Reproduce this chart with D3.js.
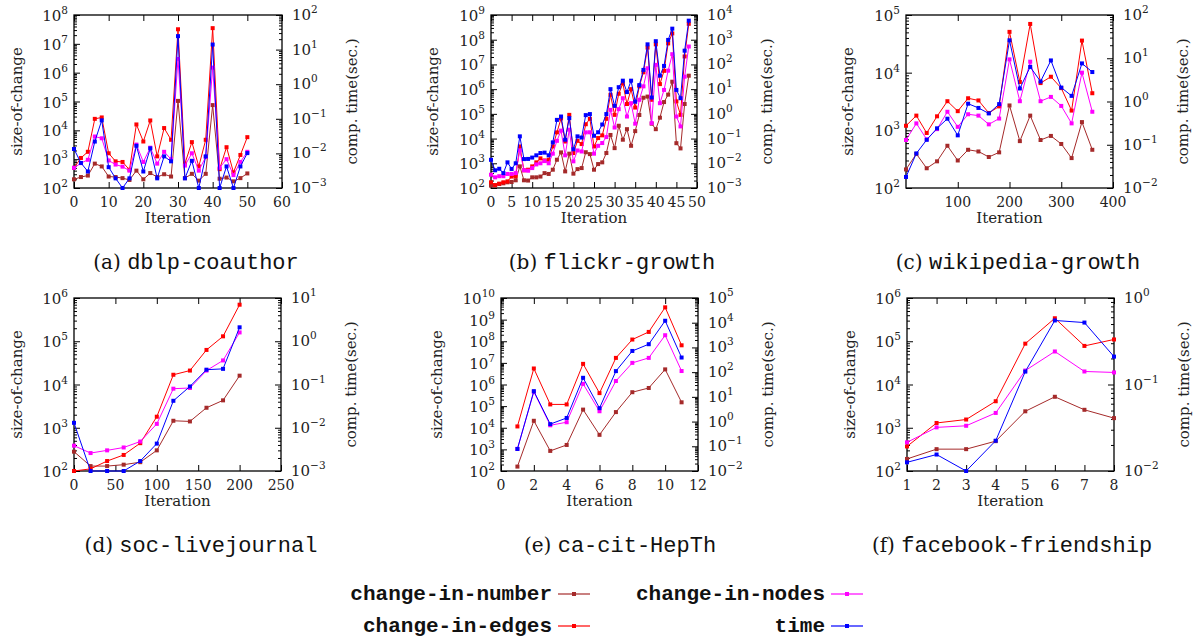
<!DOCTYPE html>
<html><head><meta charset="utf-8">
<script src="https://cdn.jsdelivr.net/npm/d3@7"></script>
<style>body{margin:0;background:#fff}svg{display:block}</style>
</head><body><svg id="c" width="1193" height="641"></svg>
<script>
// ---------- DATA ----------
// (a) dblp-coauthor
const dblpIter   = [0,2,4,6,8,10,12,14,16,18,20,22,24,26,28,30,32,34,36,38,40,42,44,46,48,50];
const dblpNumber = [200,240,270,700,560,250,240,220,190,400,200,330,240,300,250,105000,220,310,180,310,75000,210,230,170,220,320];
const dblpEdges  = [500,1100,1800,25000,28000,1600,840,800,430,16000,4100,22000,1250,12000,4700,32000000,700,3900,560,4700,35000000,450,2600,350,1400,5800];
const dblpNodes  = [500,730,950,6100,5300,900,650,550,400,3200,800,2500,700,1800,1000,3000000,600,1600,400,1200,1500000,500,1000,280,800,1800];
const dblpTime   = [0.0134,0.0053,0.003,0.022,0.09,0.004,0.0019,0.001,0.0019,0.0166,0.003,0.014,0.0019,0.0082,0.0059,24.5,0.0019,0.0061,0.001,0.0082,14,0.001,0.0042,0.001,0.0042,0.0102];

// (b) flickr-growth
const flickrIter   = [0,1,2,3,4,5,6,7,8,9,10,11,12,13,14,15,16,17,18,19,20,21,22,23,24,25,26,27,28,29,30,31,32,33,34,35,36,37,38,39,40,41,42,43,44,45,46,47,48];
const flickrNumber = [125,130,145,155,170,175,205,750,205,200,270,270,290,400,370,550,1390,2760,470,2450,380,580,640,2800,2350,550,930,1090,2600,14000,4100,33000,9000,24000,5100,20000,90000,450000,500000,40000,24000,70000,300000,600000,2000000,6500,4000,250000,3500000];
const flickrEdges  = [170,130,150,170,185,290,300,4800,520,550,750,1090,1580,1300,1390,4800,17800,65000,7600,91000,2600,8100,6000,38000,63000,4800,10500,13500,63000,590000,91000,650000,1700000,250000,1000000,180000,1300000,4800000,48000000,370000,65000000,1600000,5500000,71000000,180000000,320000,91000,21000000,440000000];
const flickrNodes  = [345,270,300,300,370,370,400,3300,520,500,640,900,1000,1230,1000,2450,8100,21000,2100,23000,1200,3300,3000,17800,18000,2450,5100,6600,11500,145000,28000,155000,430000,78000,270000,40000,370000,1300000,7000000,42000,9600000,270000,930000,5600000,26000000,78000,31000,3200000,53000000];
const flickrTime   = [0.0138,0.0052,0.006,0.004,0.0109,0.0059,0.01,0.123,0.0148,0.015,0.017,0.021,0.026,0.027,0.021,0.07,0.57,0.78,0.09,0.67,0.037,0.123,0.11,0.89,0.98,0.13,0.18,0.37,0.98,10,2.1,12,22,7.6,22,3.1,14.6,60,650,4.6,870,35,87,980,2800,9.3,4.3,360,5900];

// (c) wikipedia-growth
const wikiIter   = [0,20,40,60,80,100,120,140,160,180,200,220,240,260,280,300,320,340,360];
const wikiNumber = [210,390,220,290,540,300,460,430,345,415,2700,650,1800,680,800,580,330,1390,460];
const wikiEdges  = [1200,1800,900,1750,3200,2150,3600,3300,2000,2600,51000,6900,70000,6600,8500,5400,2200,36000,4400];
const wikiNodes  = [680,1320,700,1050,2100,1150,1900,1800,1270,1600,17000,3200,15500,3200,3800,2650,1320,10000,2100];
const wikiTime   = [0.018,0.063,0.13,0.24,0.4,0.165,0.89,0.71,0.53,0.87,26,2.0,6.3,2.9,8.9,2.1,1.35,7.6,4.8];

// (d) soc-livejournal
const ljIter   = [0,20,40,60,80,100,120,140,160,180,200];
const ljNumber = [280,130,130,140,160,300,1450,1400,2900,4300,16000];
const ljEdges  = [100,112,170,235,440,1800,16800,21000,63000,130000,700000];
const ljNodes  = [385,260,300,350,480,1230,8000,8300,21000,36000,160000];
const ljTime   = [0.013,0.001,0.001,0.001,0.0017,0.0043,0.042,0.09,0.22,0.23,2.1];

// (e) ca-cit-HepTh
const hepIter   = [1,2,3,4,5,6,7,8,9,10,11];
const hepNumber = [160,21000,850,1600,69000,4700,53000,440000,690000,5000000,150000];
const hepEdges  = [11500,5500000,120000,120000,9000000,400000,17000000,120000000,270000000,3700000000,65000000];
const hepNodes  = [1050,460000,13000,18000,1070000,58000,1450000,10000000,17000000,190000000,4200000];
const hepTime   = [0.078,17,0.79,1.4,59,3.5,110,720,1350,12000,390];

// (f) facebook-friendship
const fbIter   = [1,2,3,4,5,6,7,8];
const fbNumber = [190,320,320,490,2400,5200,2600,1670];
const fbEdges  = [370,1290,1550,4100,88000,340000,78000,110000];
const fbNodes  = [460,1020,1110,2200,21000,58000,20000,19000];
const fbTime   = [0.0126,0.0155,0.01,0.0224,0.141,0.55,0.52,0.21];

// tick labels
const ticksA = [0,10,20,30,40,50,60];
const ticksB = [0,5,10,15,20,25,30,35,40,45,50];
const ticksC = [100,200,300,400];
const ticksD = [0,50,100,150,200,250];
const ticksE = [0,2,4,6,8,10,12];
const ticksF = [1,2,3,4,5,6,7,8];

const captions = [["(a) ","dblp-coauthor"],["(b) ","flickr-growth"],["(c) ","wikipedia-growth"],
                  ["(d) ","soc-livejournal"],["(e) ","ca-cit-HepTh"],["(f) ","facebook-friendship"]];
const legendNames = ["change-in-number","change-in-edges","change-in-nodes","time"];

// ---------- STYLE / LAYOUT ----------
const COL = {number:"#a52a2a", edges:"#ff0000", nodes:"#ff00ff", time:"#0000ff"};
const SERIF = "'DejaVu Serif', serif";
const MONO = "'Liberation Mono','DejaVu Sans Mono',monospace";
const svg = d3.select("#c");

const panels = [
 {iter:dblpIter, s:{number:dblpNumber,edges:dblpEdges,nodes:dblpNodes,time:dblpTime}, xd:[0,60], xt:ticksA,
  yl:[1e2,1e8], yr:[1e-3,1e2], left:74, right:282, top:15, bottom:188, ylab:-57, cap:[196,262]},
 {iter:flickrIter, s:{number:flickrNumber,edges:flickrEdges,nodes:flickrNodes,time:flickrTime}, xd:[0,50], xt:ticksB,
  yl:[1e2,1e9], yr:[1e-3,1e4], left:491, right:697, top:15, bottom:188, ylab:-58, cap:[612,262]},
 {iter:wikiIter, s:{number:wikiNumber,edges:wikiEdges,nodes:wikiNodes,time:wikiTime}, xd:[0,400], xt:ticksC,
  yl:[1e2,1e5], yr:[1e-2,1e2], left:906, right:1113, top:15, bottom:188, ylab:-58, cap:[1018,262]},
 {iter:ljIter, s:{number:ljNumber,edges:ljEdges,nodes:ljNodes,time:ljTime}, xd:[0,250], xt:ticksD,
  yl:[1e2,1e6], yr:[1e-3,1e1], left:74, right:281, top:298, bottom:471, ylab:-57, cap:[201,545]},
 {iter:hepIter, s:{number:hepNumber,edges:hepEdges,nodes:hepNodes,time:hepTime}, xd:[0,12], xt:ticksE,
  yl:[1e2,1e10], yr:[1e-2,1e5], left:501, right:698, top:298, bottom:471, ylab:-64, cap:[620,545]},
 {iter:fbIter, s:{number:fbNumber,edges:fbEdges,nodes:fbNodes,time:fbTime}, xd:[1,8], xt:ticksF,
  yl:[1e2,1e6], yr:[1e-2,1e0], left:907, right:1114, top:298, bottom:471, ylab:-57, cap:[1012,545]}
];

function decades(dom){
  const a=Math.round(Math.log10(dom[0])), b=Math.round(Math.log10(dom[1]));
  const maj=[], min=[];
  for(let e=a;e<=b;e++){ maj.push({v:Math.pow(10,e),e:e}); if(e<b) for(let k=2;k<=9;k++) min.push(k*Math.pow(10,e)); }
  return {maj,min};
}
function powText(t, e){
  t.append("tspan").text("10");
  t.append("tspan").attr("dy",-7).attr("font-size",10.5).text(e<0?"\u2212"+(-e):String(e));
}
function clean(g){ g.select(".domain").remove(); g.selectAll("line").attr("stroke","#000"); }

panels.forEach((p,i)=>{
  const g = svg.append("g");
  const x = d3.scaleLinear().domain(p.xd).range([p.left,p.right]);
  const yL = d3.scaleLog().domain(p.yl).range([p.bottom,p.top]);
  const yR = d3.scaleLog().domain(p.yr).range([p.bottom,p.top]);
  const dl = decades(p.yl), dr = decades(p.yr);

  // axes ticks (inward)
  g.append("g").attr("transform",`translate(0,${p.bottom})`).call(d3.axisBottom(x).tickValues(p.xt).tickSize(-6).tickFormat("")).call(clean);
  g.append("g").attr("transform",`translate(0,${p.top})`).call(d3.axisTop(x).tickValues(p.xt).tickSize(-6).tickFormat("")).call(clean);
  g.append("g").attr("transform",`translate(${p.left},0)`).call(d3.axisLeft(yL).tickValues(dl.maj.map(d=>d.v)).tickSize(-6).tickFormat("")).call(clean);
  g.append("g").attr("transform",`translate(${p.left},0)`).call(d3.axisLeft(yL).tickValues(dl.min).tickSize(-3).tickFormat("")).call(clean);
  g.append("g").attr("transform",`translate(${p.right},0)`).call(d3.axisRight(yR).tickValues(dr.maj.map(d=>d.v)).tickSize(-6).tickFormat("")).call(clean);
  g.append("g").attr("transform",`translate(${p.right},0)`).call(d3.axisRight(yR).tickValues(dr.min).tickSize(-3).tickFormat("")).call(clean);

  // frame
  g.append("rect").attr("x",p.left).attr("y",p.top).attr("width",p.right-p.left).attr("height",p.bottom-p.top)
   .attr("fill","none").attr("stroke","#000").attr("stroke-width",1.3);

  // tick labels
  p.xt.forEach(v=>{
    g.append("text").attr("x",x(v)).attr("y",p.bottom+19).attr("text-anchor","middle")
     .attr("font-family",SERIF).attr("font-size",14).attr("fill","#222").text(v);
  });
  dl.maj.forEach(d=>{
    const t=g.append("text").attr("x",p.left-6).attr("y",yL(d.v)+6).attr("text-anchor","end")
     .attr("font-family",SERIF).attr("font-size",15).attr("fill","#222");
    powText(t,d.e);
  });
  dr.maj.forEach(d=>{
    const t=g.append("text").attr("x",p.right+10).attr("y",yR(d.v)+5).attr("text-anchor","start")
     .attr("font-family",SERIF).attr("font-size",15).attr("fill","#222");
    powText(t,d.e);
  });
  // axis titles
  const my=(p.top+p.bottom)/2;
  g.append("text").attr("transform",`translate(${p.left+p.ylab},${my}) rotate(-90)`).attr("text-anchor","middle")
   .attr("dominant-baseline","central").attr("font-family",SERIF).attr("font-size",15).attr("fill","#222").text("size-of-change");
  g.append("text").attr("transform",`translate(${p.right+70},${my}) rotate(-90)`).attr("text-anchor","middle")
   .attr("dominant-baseline","central").attr("font-family",SERIF).attr("font-size",15).attr("fill","#222").text("comp.  time(sec.)");
  g.append("text").attr("x",(p.left+p.right)/2).attr("y",p.bottom+35).attr("text-anchor","middle")
   .attr("font-family",SERIF).attr("font-size",15).attr("fill","#222").text("Iteration");

  // series
  ["number","edges","nodes","time"].forEach(k=>{
    const ys = k==="time"? yR : yL;
    const pts = p.iter.map((it,j)=>[x(it), ys(p.s[k][j])]);
    g.append("path").attr("d",d3.line()(pts)).attr("fill","none").attr("stroke",COL[k]).attr("stroke-width",1);
    g.selectAll(null).data(pts).enter().append("rect")
     .attr("x",d=>d[0]-2).attr("y",d=>d[1]-2).attr("width",4).attr("height",4).attr("fill",COL[k]);
  });

  // caption
  const c=svg.append("text").attr("x",p.cap[0]).attr("y",p.cap[1]+7).attr("text-anchor","middle").attr("fill","#111");
  c.append("tspan").attr("font-family",SERIF).attr("font-size",20).text(captions[i][0]);
  c.append("tspan").attr("font-family",MONO).attr("font-size",22).text(captions[i][1]);
});

// legend
const legPos = [[552,594],[552,626],[825,594],[825,626]];
const legKeys = ["number","edges","nodes","time"];
legKeys.forEach((k,i)=>{
  const [rx,cy]=legPos[i];
  svg.append("text").attr("x",rx).attr("y",cy+6).attr("text-anchor","end").attr("font-family",MONO)
    .attr("font-weight","bold").attr("font-size",21).attr("fill","#111").text(legendNames[i]);
  svg.append("line").attr("x1",rx+6).attr("x2",rx+38).attr("y1",cy).attr("y2",cy).attr("stroke",COL[k]).attr("stroke-width",1.2);
  svg.append("rect").attr("x",rx+20).attr("y",cy-2).attr("width",4).attr("height",4).attr("fill",COL[k]);
});
</script>
</body></html>
